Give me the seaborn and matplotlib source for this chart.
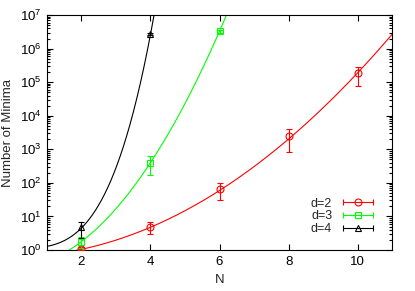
import numpy as np
import pandas as pd
import matplotlib
matplotlib.use('Agg')
import matplotlib.pyplot as plt
from matplotlib.lines import Line2D
from matplotlib.legend_handler import HandlerLine2D, HandlerTuple
from matplotlib.ticker import LogLocator, NullFormatter, FixedLocator
import seaborn as sns

# measured points: N, value, lower / upper end of error bar
n_d2 = [2, 4, 6, 8, 10]
y_d2 = [1.1, 4.9, 65, 2450, 1.9e5]
lo_d2 = [1.0, 3.0, 30, 850, 7.6e4]
hi_d2 = [1.25, 6.9, 100, 4100, 2.9e5]

n_d3 = [2, 4, 6]
y_d3 = [1.77, 400, 3.3e6]
lo_d3 = [1.15, 167, 3.0e6]
hi_d3 = [2.5, 630, 3.7e6]

n_d4 = [2, 4]
y_d4 = [4.8, 2.8e6]
lo_d4 = [2.3, 2.6e6]
hi_d4 = [6.9, 3.0e6]

# fitted curves, log10(y) = a * N**p + c
fit_d2 = (0.0548, 2.0, -0.2)
fit_d3 = (0.196, 2.0, -0.534)
fit_d4 = (0.0572, 3.4, 0.05)

labels = ['d=2', 'd=3', 'd=4']
colors = ['#ff0000', '#00ff00', '#000000']
markers = ['o', 's', '^']

sns.set_theme(style='ticks')
plt.rcParams['font.family'] = ['Liberation Sans', 'DejaVu Sans']
plt.rcParams['mathtext.fontset'] = 'custom'
plt.rcParams['mathtext.rm'] = 'Liberation Sans'
plt.rcParams['mathtext.it'] = 'Liberation Sans:italic'
plt.rcParams['mathtext.bf'] = 'Liberation Sans:bold'

fig = plt.figure(figsize=(4.15, 2.91), dpi=100)
ax = fig.add_axes([0.113, 0.141, 0.832, 0.807])

# fit curves
n_grid = np.linspace(1, 11, 1500)
rows = []
for lab, (a, p, c) in zip(labels, [fit_d2, fit_d3, fit_d4]):
    yv = np.clip(10 ** (a * n_grid ** p + c), 1e-2, 1e9)
    rows.append(pd.DataFrame({'N': n_grid, 'y': yv, 'd': lab}))
curves = pd.concat(rows, ignore_index=True)
sns.lineplot(data=curves, x='N', y='y', hue='d', palette=colors,
             linewidth=0.8, legend=False, ax=ax, sort=False)

# data points with error bars
handles = []
hmap = {}
points = [(n_d2, y_d2, lo_d2, hi_d2), (n_d3, y_d3, lo_d3, hi_d3), (n_d4, y_d4, lo_d4, hi_d4)]
for (n, y, lo, hi), col, mk in zip(points, colors, markers):
    y = np.array(y)
    err = [y - np.array(lo), np.array(hi) - y]
    ax.errorbar(n, y, yerr=err, fmt=mk, color=col, mfc='none', mec=col,
                ms=5, mew=0.8, elinewidth=0.8, capsize=2.5, capthick=0.8, zorder=3)
    cap = Line2D([], [], color=col, lw=0.8, marker='|', ms=4, mew=0.8)
    mark = Line2D([], [], ls='none', marker=mk, mfc='none', mec=col, ms=5, mew=0.8)
    hmap[cap] = HandlerLine2D(numpoints=2)
    hmap[mark] = HandlerLine2D(numpoints=1)
    handles.append((cap, mark))
hmap[tuple] = HandlerTuple(ndivide=1)

ax.set_yscale('log')
ax.set_xlim(1, 11)
ax.set_ylim(1, 1e7)
ax.xaxis.set_major_locator(FixedLocator([2, 4, 6, 8, 10]))
ax.yaxis.set_major_locator(LogLocator(base=10, numticks=10))
ax.yaxis.set_minor_locator(LogLocator(base=10, subs=np.arange(2, 10), numticks=20))
ax.yaxis.set_minor_formatter(NullFormatter())
ax.tick_params(which='both', direction='in', top=True, right=True, colors='black',
               labelsize=9.5, width=0.8)
ax.tick_params(which='major', length=4.5, pad=4)
ax.tick_params(which='minor', length=2.5)
for s in ax.spines.values():
    s.set_color('black')
    s.set_linewidth(0.8)

ax.set_xlabel('N', fontsize=9.5, labelpad=5)
ax.set_ylabel('Number of Minima', fontsize=9.5, labelpad=4)

ax.legend(handles, labels, handler_map=hmap, loc='lower right', frameon=False,
          markerfirst=False, fontsize=9, handlelength=3.0, labelspacing=0.05,
          handletextpad=0.6, borderaxespad=0.8, borderpad=0.4)

fig.savefig('out.png', dpi=100)
